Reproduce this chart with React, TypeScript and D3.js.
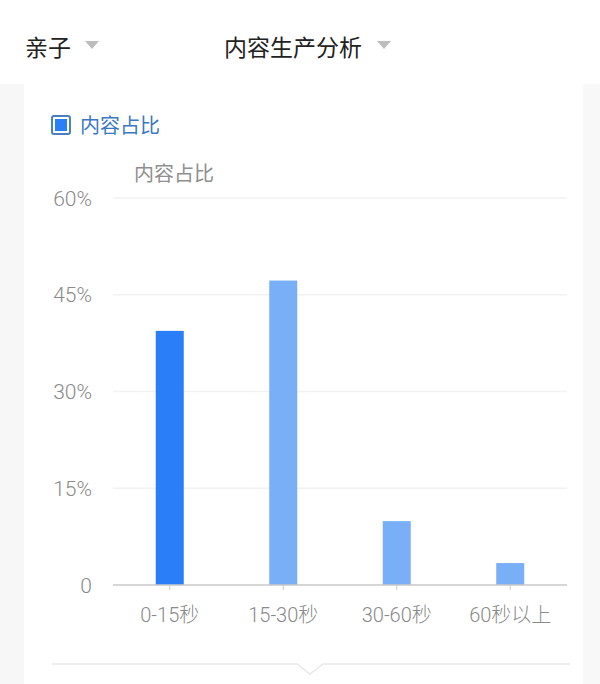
import { useRef, useEffect } from "react";
import * as d3 from "d3";

const categories = ["0-15秒", "15-30秒", "30-60秒", "60秒以上"];
const shares = [39.4, 47.2, 9.9, 3.4];
const yTicks = [0, 15, 30, 45, 60];
const yTickLabels = ["0", "15%", "30%", "45%", "60%"];
const selectedIndex = 0;

const WIDTH = 600;
const HEIGHT = 684;
const PLOT = { left: 113, right: 567, top: 198, bottom: 585 };
const FONT = "'Noto Sans CJK SC', 'Noto Sans', sans-serif";
const NUM_FONT = "Roboto, 'Noto Sans CJK SC', sans-serif";

export default function App() {
  const svgRef = useRef<SVGSVGElement>(null);

  useEffect(() => {
    const svg = d3.select(svgRef.current);
    svg.selectAll("*").remove();

    // page background + side strips
    svg.append("rect").attr("width", WIDTH).attr("height", HEIGHT).attr("fill", "#ffffff");
    svg.append("rect").attr("x", 0).attr("y", 84).attr("width", 24).attr("height", HEIGHT - 84).attr("fill", "#f7f7f7");
    svg.append("rect").attr("x", 583).attr("y", 84).attr("width", 17).attr("height", HEIGHT - 84).attr("fill", "#f8f8f8");

    // header dropdowns
    const header = [
      { text: "亲子", x: 25, arrow: 92 },
      { text: "内容生产分析", x: 224, arrow: 384 },
    ];
    for (const h of header) {
      svg.append("text")
        .attr("x", h.x).attr("y", 56)
        .attr("font-family", FONT).attr("font-size", 23)
        .attr("fill", "#222").text(h.text);
      svg.append("path")
        .attr("d", `M${h.arrow - 7},41 L${h.arrow + 7},41 L${h.arrow},49 Z`)
        .attr("fill", "#bdbdbd");
    }

    // legend
    svg.append("rect").attr("x", 52).attr("y", 116).attr("width", 18).attr("height", 18)
      .attr("rx", 2).attr("fill", "#fff").attr("stroke", "#4a7fc0").attr("stroke-width", 2);
    svg.append("rect").attr("x", 55).attr("y", 119).attr("width", 12).attr("height", 12).attr("fill", "#2a7ff8");
    svg.append("text")
      .attr("x", 80).attr("y", 133)
      .attr("font-family", FONT).attr("font-size", 20)
      .attr("fill", "#3a78c4").text("内容占比");

    // axis title
    svg.append("text")
      .attr("x", 134).attr("y", 181)
      .attr("font-family", FONT).attr("font-size", 20)
      .attr("fill", "#8f8f8f").text("内容占比");

    const x = d3.scaleBand().domain(categories).range([PLOT.left, PLOT.right]);
    const y = d3.scaleLinear().domain([0, 60]).range([PLOT.bottom, PLOT.top]);

    // grid lines
    svg.append("g")
      .selectAll("line")
      .data(yTicks.slice(1))
      .join("line")
      .attr("x1", PLOT.left).attr("x2", PLOT.right)
      .attr("y1", (d) => y(d)).attr("y2", (d) => y(d))
      .attr("stroke", "#f2f2f2").attr("stroke-width", 1.5);

    // y tick labels
    svg.append("g")
      .selectAll("text")
      .data(yTicks)
      .join("text")
      .attr("x", 92).attr("y", (d) => y(d))
      .attr("dy", "0.36em")
      .attr("text-anchor", "end")
      .attr("font-family", NUM_FONT).attr("font-size", 21).attr("font-weight", 300)
      .attr("fill", "#8a8a8a")
      .text((_, i) => yTickLabels[i]);

    // bars
    const barW = 28;
    svg.append("g")
      .selectAll("rect")
      .data(shares)
      .join("rect")
      .attr("x", (_, i) => x(categories[i])! + x.bandwidth() / 2 - barW / 2)
      .attr("y", (d) => y(d))
      .attr("width", barW)
      .attr("height", (d) => y(0) - y(d))
      .attr("fill", (_, i) => (i === selectedIndex ? "#2a7ff8" : "#79aff7"));

    // x axis
    svg.append("line")
      .attr("x1", PLOT.left).attr("x2", PLOT.right)
      .attr("y1", PLOT.bottom).attr("y2", PLOT.bottom)
      .attr("stroke", "#c8c8c8").attr("stroke-width", 1.5);
    svg.append("g")
      .selectAll("line")
      .data(categories)
      .join("line")
      .attr("x1", (d) => x(d)! + x.bandwidth() / 2).attr("x2", (d) => x(d)! + x.bandwidth() / 2)
      .attr("y1", PLOT.bottom).attr("y2", PLOT.bottom + 5)
      .attr("stroke", "#c8c8c8").attr("stroke-width", 1);
    svg.append("g")
      .selectAll("text")
      .data(categories)
      .join("text")
      .attr("x", (d) => x(d)! + x.bandwidth() / 2)
      .attr("y", 622)
      .attr("text-anchor", "middle")
      .attr("font-family", NUM_FONT).attr("font-size", 20).attr("font-weight", 300)
      .attr("fill", "#8a8a8a")
      .text((d) => d);

    // bottom divider with notch
    svg.append("path")
      .attr("d", "M52,664 L297,664 L310,674 L323,664 L570,664")
      .attr("fill", "none").attr("stroke", "#e8e8e8").attr("stroke-width", 1.5);
  }, []);

  return (
    <svg
      ref={svgRef}
      width={WIDTH}
      height={HEIGHT}
      style={{ position: "absolute", left: 0, top: 0, display: "block" }}
    />
  );
}
